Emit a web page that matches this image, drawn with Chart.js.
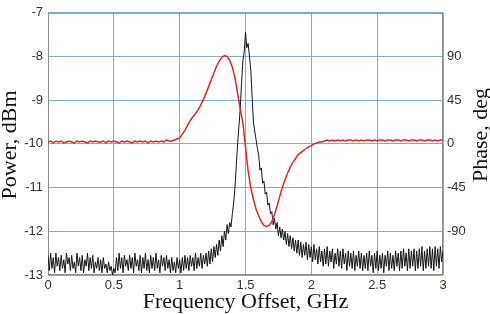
<!DOCTYPE html>
<html>
<head>
<meta charset="utf-8">
<script src="https://cdn.jsdelivr.net/npm/chart.js@4/dist/chart.umd.min.js"></script>
<style>
  html, body { margin: 0; padding: 0; background: #fff; }
  #wrap { width: 490px; height: 314px; }
</style>
</head>
<body>
<div id="wrap"><canvas id="chart"></canvas></div>
<script>
// frequency grid: power sampled every 10 MHz, phase every 20 MHz, from 0 to 3 GHz
const FREQ_STEP = 0.01
const PHASE_STEP = 0.02

const powerDbm = [
  -12.55,-12.9,-12.5,-12.85,-12.6,-12.95,-12.5,-12.8,-12.6,-12.9,
  -12.55,-12.85,-12.65,-12.95,-12.5,-12.75,-12.6,-12.9,-12.55,-12.85,
  -12.7,-12.95,-12.5,-12.8,-12.6,-12.9,-12.55,-12.95,-12.65,-12.8,
  -12.5,-12.9,-12.6,-12.85,-12.55,-12.95,-12.7,-12.85,-12.6,-12.9,
  -12.65,-12.95,-12.6,-12.85,-12.75,-12.95,-12.7,-12.9,-12.8,-13.0,
  -12.85,-12.95,-12.6,-12.9,-12.5,-12.85,-12.6,-12.95,-12.55,-12.8,
  -12.65,-12.9,-12.55,-12.85,-12.6,-12.95,-12.5,-12.8,-12.65,-12.9,
  -12.55,-12.95,-12.6,-12.85,-12.5,-12.9,-12.65,-12.95,-12.55,-12.85,
  -12.6,-12.9,-12.5,-12.85,-12.65,-12.95,-12.55,-12.8,-12.6,-12.9,
  -12.55,-12.85,-12.65,-12.95,-12.6,-12.9,-12.7,-12.95,-12.6,-12.85,
  -12.65,-12.95,-12.6,-12.9,-12.55,-12.85,-12.6,-12.9,-12.55,-12.8,
  -12.6,-12.9,-12.5,-12.85,-12.6,-12.8,-12.5,-12.85,-12.55,-12.75,
  -12.5,-12.8,-12.45,-12.75,-12.4,-12.7,-12.35,-12.6,-12.3,-12.55,
  -12.2,-12.45,-12.1,-12.35,-12.0,-12.2,-11.85,-12.05,-11.8,-11.9,
  -11.6,-11.35,-11.0,-10.5,-10.0,-9.6,-9.2,-8.6,-8.1,-7.9,
  -7.45,-7.8,-7.7,-8.0,-8.3,-8.9,-9.5,-9.7,-9.9,-10.1,
  -10.25,-10.6,-10.55,-10.9,-10.85,-11.15,-11.1,-11.4,-11.35,-11.6,
  -11.55,-11.85,-11.7,-11.95,-11.8,-12.1,-11.9,-12.15,-11.95,-12.2,
  -12.0,-12.3,-12.05,-12.35,-12.1,-12.4,-12.15,-12.45,-12.2,-12.5,
  -12.2,-12.55,-12.25,-12.6,-12.3,-12.55,-12.25,-12.65,-12.3,-12.6,
  -12.35,-12.7,-12.3,-12.65,-12.4,-12.75,-12.35,-12.7,-12.45,-12.8,
  -12.4,-12.75,-12.35,-12.8,-12.45,-12.7,-12.4,-12.85,-12.5,-12.75,
  -12.4,-12.8,-12.45,-12.85,-12.4,-12.75,-12.5,-12.9,-12.45,-12.8,
  -12.5,-12.85,-12.45,-12.9,-12.55,-12.8,-12.45,-12.85,-12.5,-12.9,
  -12.55,-12.85,-12.5,-12.9,-12.45,-12.8,-12.55,-12.95,-12.5,-12.85,
  -12.45,-12.9,-12.55,-12.85,-12.5,-12.95,-12.55,-12.8,-12.45,-12.9,
  -12.5,-12.85,-12.55,-12.9,-12.45,-12.8,-12.5,-12.9,-12.45,-12.85,
  -12.4,-12.8,-12.5,-12.9,-12.4,-12.85,-12.45,-12.8,-12.4,-12.9,
  -12.45,-12.85,-12.4,-12.8,-12.35,-12.9,-12.45,-12.85,-12.4,-12.8,
  -12.35,-12.85,-12.4,-12.9,-12.35,-12.8,-12.4,-12.85,-12.35,-12.7,
  -12.45
]

// measured phase, deg
const phaseDeg = [
  2,3,1,3,2,3,1,2,3,2,
  1,3,2,3,2,1,3,2,3,2,
  2,3,1,3,2,3,2,1,3,2,
  3,2,1,3,2,3,2,3,1,3,
  2,3,2,3,2,4,3,3,4,5,
  6,10,14,19,24,28,31,35,40,46,
  52,59,66,73,80,85,89,91,90,86,
  79,68,52,36,22,-3,-28,-45,-57,-67,
  -74,-80,-84,-85,-84,-80,-73,-64,-54,-45,
  -37,-30,-24,-19,-15,-11,-9,-7,-5,-3,
  -2,0,1,2,2,3,4,3,4,3,
  4,3,4,3,4,4,3,4,3,4,
  3,4,4,3,4,3,4,4,3,4,
  4,3,4,4,3,4,4,3,4,4,
  3,4,4,3,4,4,3,4,3,4,
  4
]

const xTicks = [0, 0.5, 1, 1.5, 2, 2.5, 3]
const powerTicks = [-13, -12, -11, -10, -9, -8, -7]
const phaseTicks = [-90, -45, 0, 45, 90]

const GRID = '#80acd2'
const TICK_FONT = { family: '"Liberation Sans", Arial, sans-serif', size: 13 }
const TITLE_FONT = '22px "Liberation Serif", "Times New Roman", serif'

// axis titles drawn by hand so the right one reads bottom-to-top like the left one
const titles = {
  id: 'titles',
  beforeDatasetsDraw(chart) {
    const { ctx, chartArea: a } = chart
    ctx.save()
    ctx.strokeStyle = '#8a8a8a'
    ctx.lineWidth = 1
    ctx.strokeRect(a.left + 0.5, a.top + 0.5, a.right - a.left - 1, a.bottom - a.top - 1)
    ctx.restore()
  },
  afterDraw(chart) {
    const { ctx, chartArea: a } = chart
    ctx.save()
    ctx.fillStyle = '#111'
    ctx.font = TITLE_FONT
    ctx.textAlign = 'center'
    ctx.textBaseline = 'alphabetic'
    ctx.fillText('Frequency Offset, GHz', (a.left + a.right) / 2, 308)

    ctx.save()
    ctx.translate(16, (a.top + a.bottom) / 2 + 1)
    ctx.rotate(-Math.PI / 2)
    ctx.fillText('Power, dBm', 0, 0)
    ctx.restore()

    ctx.save()
    ctx.translate(487, 135)
    ctx.rotate(-Math.PI / 2)
    ctx.fillText('Phase, deg', 0, 0)
    ctx.restore()
    ctx.restore()
  }
}

new Chart(document.getElementById('chart'), {
  type: 'line',
  data: {
    datasets: [
      {
        label: 'Phase',
        data: phaseDeg.map((v, i) => ({ x: i * PHASE_STEP, y: v })),
        yAxisID: 'y1',
        borderColor: 'rgb(226,38,38)',
        borderWidth: 1.5,
        pointRadius: 0,
        tension: 0
      },
      {
        label: 'Power',
        data: powerDbm.map((v, i) => ({ x: i * FREQ_STEP, y: v })),
        yAxisID: 'y',
        borderColor: '#151515',
        borderWidth: 1,
        pointRadius: 0,
        tension: 0
      }
    ]
  },
  options: {
    responsive: true,
    maintainAspectRatio: false,
    animation: false,
    layout: { padding: { top: 6 } },
    plugins: { legend: { display: false }, tooltip: { enabled: false } },
    scales: {
      x: {
        type: 'linear',
        min: 0,
        max: 3,
        afterBuildTicks(s) { s.ticks = xTicks.map((v) => ({ value: v })) },
        ticks: { color: '#333', font: TICK_FONT, padding: 3, maxRotation: 0, callback: (v) => String(v) },
        grid: { color: GRID, drawTicks: false },
        border: { display: false },
        afterFit(s) { s.height = 39 }
      },
      y: {
        position: 'left',
        min: -13,
        max: -7,
        afterBuildTicks(s) { s.ticks = powerTicks.map((v) => ({ value: v })) },
        ticks: { color: '#333', font: TICK_FONT, padding: 5, callback: (v) => String(v) },
        grid: { color: GRID, drawTicks: false },
        border: { display: false },
        afterFit(s) { s.width = 48 }
      },
      y1: {
        position: 'right',
        min: -135,
        max: 135,
        afterBuildTicks(s) { s.ticks = phaseTicks.map((v) => ({ value: v })) },
        ticks: { color: '#333', font: TICK_FONT, padding: 4, callback: (v) => String(v) },
        grid: { display: false, drawTicks: false },
        border: { display: false },
        afterFit(s) { s.width = 47 }
      }
    }
  },
  plugins: [titles]
})
</script>
</body>
</html>
